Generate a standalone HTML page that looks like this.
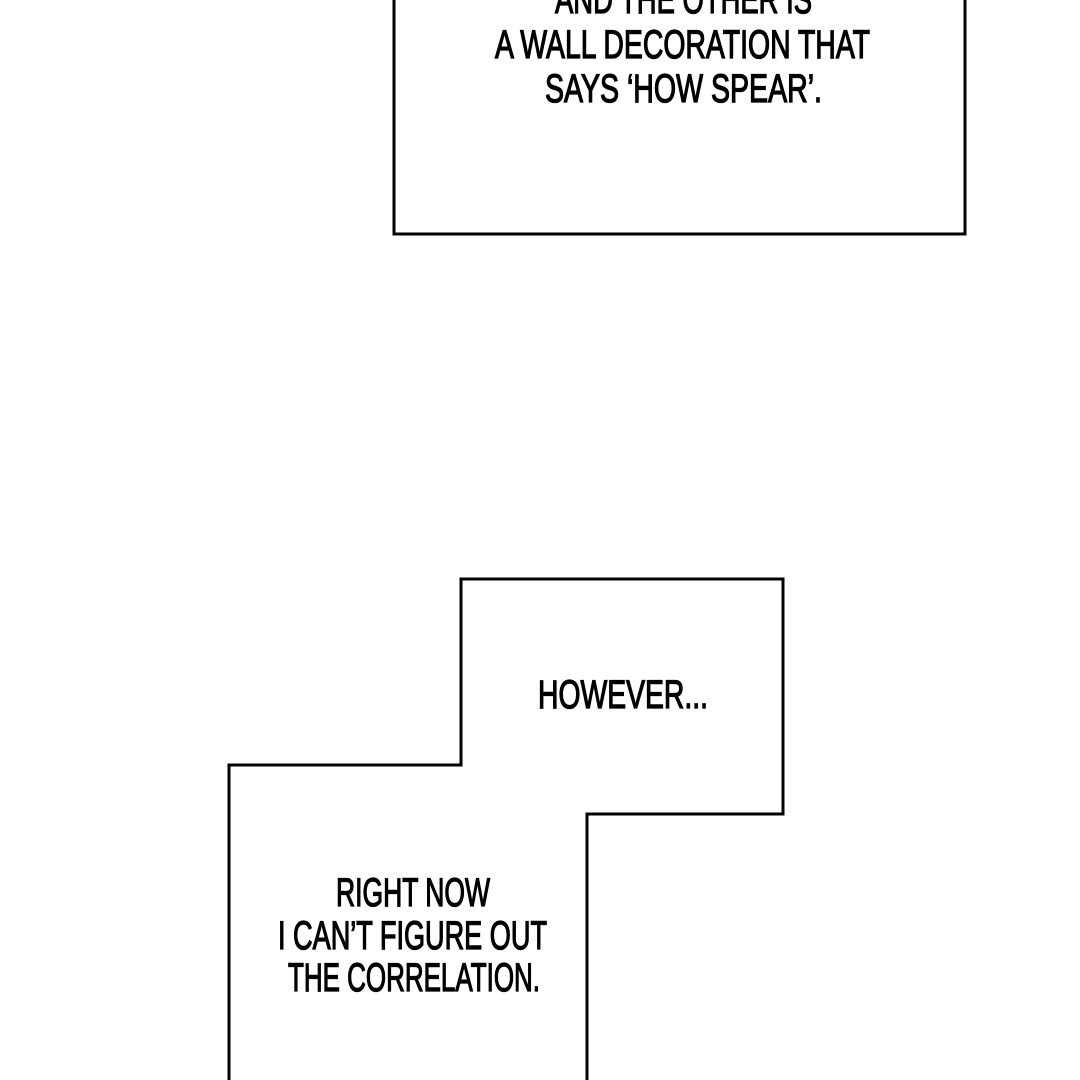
<!DOCTYPE html>
<html><head><meta charset="utf-8"><style>
html,body{margin:0;padding:0;background:#fff;}
svg{display:block}
text{font-family:"Liberation Sans Narrow","Liberation Sans",sans-serif;font-size:40px;fill:#000;stroke:#000;stroke-width:1.3px;}
</style></head><body>
<svg width="1080" height="1080" viewBox="0 0 1080 1080" xmlns="http://www.w3.org/2000/svg">
<rect width="1080" height="1080" fill="#fff"/>
<polyline points="394,-5 394,234 965,234 965,-5" fill="none" stroke="#000" stroke-width="3"/>
<polyline points="229,1085 229,765 461,765 461,579 783,579 783,814 587,814 587,1085" fill="none" stroke="#000" stroke-width="3"/>
<text x="555" y="13" textLength="257" lengthAdjust="spacingAndGlyphs">AND THE OTHER IS</text>
<text x="495" y="58" textLength="375" lengthAdjust="spacingAndGlyphs">A WALL DECORATION THAT</text>
<text x="545" y="102" textLength="277" lengthAdjust="spacingAndGlyphs">SAYS ‘HOW SPEAR’.</text>
<text x="538" y="708" textLength="170" lengthAdjust="spacingAndGlyphs">HOWEVER...</text>
<text x="336" y="906" textLength="154" lengthAdjust="spacingAndGlyphs">RIGHT NOW</text>
<text x="278" y="949" textLength="269" lengthAdjust="spacingAndGlyphs">I CAN’T FIGURE OUT</text>
<text x="288" y="991" textLength="252" lengthAdjust="spacingAndGlyphs">THE CORRELATION.</text>
</svg>
</body></html>
